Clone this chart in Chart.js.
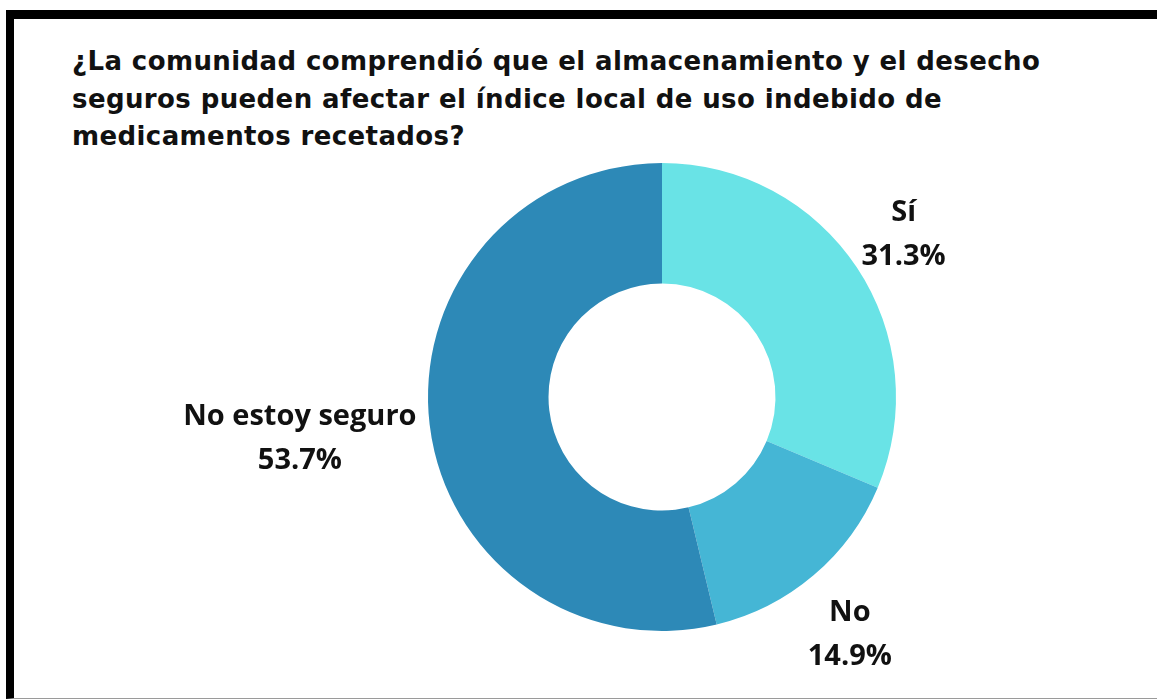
<!DOCTYPE html>
<html>
<head>
<meta charset="utf-8">
<script src="https://cdn.jsdelivr.net/npm/chart.js@4.4.1/dist/chart.umd.min.js"></script>
<style>
  html, body { margin: 0; padding: 0; background: #fff; }
  body { width: 1157px; height: 700px; position: relative; overflow: hidden; }
  .frame {
    position: absolute; left: 6px; top: 10px; right: -10px; bottom: 1px;
    border-top: 9px solid #000; border-left: 8px solid #000; border-bottom: 1px solid #9a9a9a;
  }
  .title {
    position: absolute; left: 72px; top: 43px;
    font: bold 26px "DejaVu Sans", sans-serif; line-height: 37.5px; color: #111;
    letter-spacing: 0.4px; white-space: pre;
  }
  canvas { position: absolute; left: 0; top: 0; }
</style>
</head>
<body>
<div class="frame"></div>
<div class="title">¿La comunidad comprendió que el almacenamiento y el desecho
seguros pueden afectar el índice local de uso indebido de
medicamentos recetados?</div>
<canvas id="chart" width="1157" height="700"></canvas>
<script>
  const categories = ['Sí', 'No', 'No estoy seguro'];
  const values = [31.3, 14.9, 53.7];
  const colors = ['#69e3e6', '#45b6d5', '#2d89b7'];

  // Etiquetas fuera del anillo: nombre y porcentaje
  const outsideLabels = {
    id: 'outsideLabels',
    afterDraw(chart) {
      const ctx = chart.ctx;
      const meta = chart.getDatasetMeta(0);
      const lineH = 44;
      ctx.save();
      ctx.font = 'bold 29px "Open Sans", sans-serif';
      ctx.fillStyle = '#111';
      ctx.textAlign = 'center';
      ctx.textBaseline = 'middle';
      meta.data.forEach((arc, i) => {
        const p = arc.getProps(['x', 'y', 'startAngle', 'endAngle', 'outerRadius'], true);
        const mid = (p.startAngle + p.endAngle) / 2;
        const rx = p.outerRadius + 14;
        const ry = p.outerRadius + 26;
        const lines = [categories[i], values[i].toFixed(1) + '%'];
        const w = Math.max(...lines.map(l => ctx.measureText(l).width));
        const h = lines.length * lineH;
        const cx = p.x + Math.cos(mid) * rx + Math.cos(mid) * w / 2;
        const cy = p.y + Math.sin(mid) * ry + Math.sin(mid) * h / 2 + 6;
        lines.forEach((l, j) => {
          ctx.fillText(l, cx, cy - h / 2 + lineH * (j + 0.5));
        });
      });
      ctx.restore();
    }
  };

  new Chart(document.getElementById('chart'), {
    type: 'doughnut',
    data: {
      labels: categories,
      datasets: [{
        data: values,
        backgroundColor: colors,
        borderWidth: 0
      }]
    },
    options: {
      responsive: false,
      animation: false,
      cutout: '48.5%',
      layout: { padding: { left: 200, right: 33, top: 163, bottom: 69 } },
      plugins: {
        legend: { display: false },
        tooltip: { enabled: false }
      }
    },
    plugins: [outsideLabels]
  });
</script>
</body>
</html>
